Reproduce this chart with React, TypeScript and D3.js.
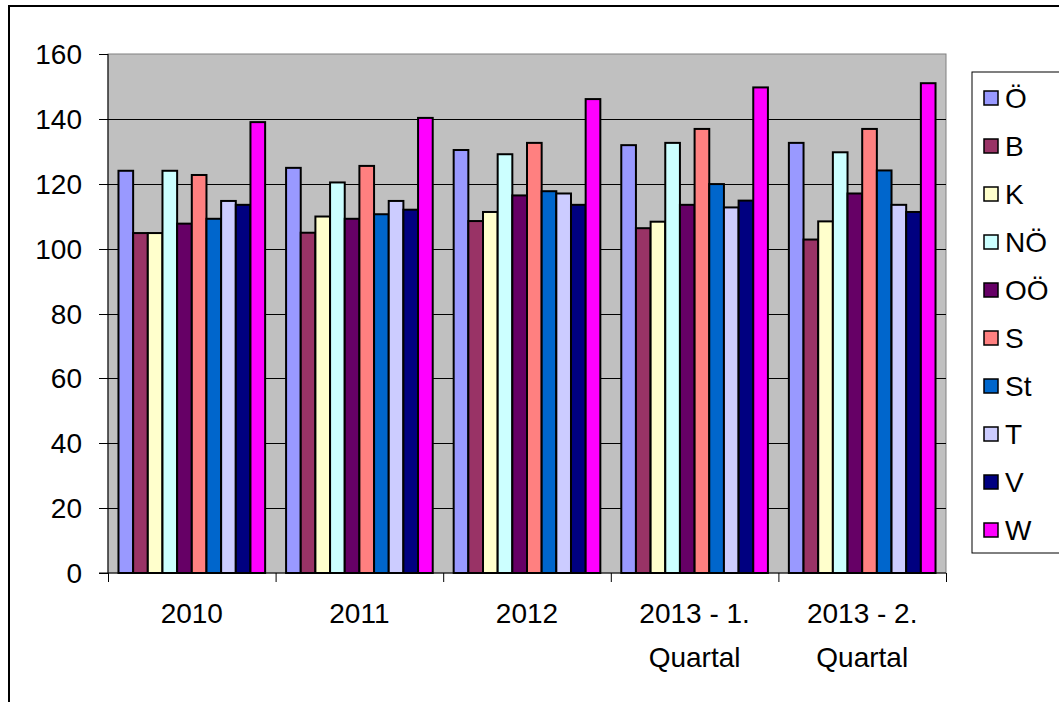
import React from "react";
import * as d3 from "d3";

const categories: string[][] = [["2010"], ["2011"], ["2012"], ["2013 - 1.", "Quartal"], ["2013 - 2.", "Quartal"]];
const seriesNames = ["Ö", "B", "K", "NÖ", "OÖ", "S", "St", "T", "V", "W"];
const seriesColors = ["#9999FF", "#993366", "#FFFFCC", "#CCFFFF", "#660066", "#FF8080", "#0066CC", "#CCCCFF", "#000080", "#FF00FF"];
// values per series, across categories
const valÖ = [124.0, 124.9, 130.4, 131.9, 132.6];
const valB = [104.8, 104.9, 108.5, 106.3, 102.8];
const valK = [104.8, 109.9, 111.3, 108.3, 108.4];
const valNÖ = [124.0, 120.4, 129.1, 132.6, 129.7];
const valOÖ = [107.7, 109.2, 116.4, 113.5, 117.0];
const valS = [122.7, 125.5, 132.6, 136.9, 136.9];
const valSt = [109.2, 110.6, 117.7, 119.9, 124.1];
const valT = [114.7, 114.7, 117.0, 112.7, 113.5];
const valV = [113.5, 112.0, 113.5, 114.8, 111.3];
const valW = [139.0, 140.3, 146.1, 149.7, 151.0];
const seriesValues = [valÖ, valB, valK, valNÖ, valOÖ, valS, valSt, valT, valV, valW];
const yTicks = [0, 20, 40, 60, 80, 100, 120, 140, 160];

const FONT = "Arial, 'Liberation Sans', sans-serif";

export default function App() {
  const left = 108, right = 946, top = 54, bottom = 573;
  const x0 = d3.scaleBand<number>().domain(d3.range(categories.length)).range([left, right]).paddingInner(0.125).paddingOuter(0.0625);
  const x1 = d3.scaleBand<number>().domain(d3.range(seriesNames.length)).range([0, x0.bandwidth()]).padding(0);
  const y = d3.scaleLinear().domain([0, 160]).range([bottom, top]);
  const step = (right - left) / categories.length;
  const fs = 28;

  return (
    <svg width={1059} height={702} style={{ position: "absolute", left: 0, top: 0 }}>
      <rect x={9} y={6} width={1070} height={720} fill="#fff" stroke="#000" strokeWidth={2} />
      <rect x={left} y={top} width={right - left} height={bottom - top} fill="#C0C0C0" stroke="#808080" strokeWidth={1} />
      {yTicks.slice(1, -1).map((t) => (
        <line key={t} x1={left} x2={right} y1={Math.round(y(t)) + 0.5} y2={Math.round(y(t)) + 0.5} stroke="#000" strokeWidth={1} />
      ))}
      {seriesValues.map((vals, si) =>
        vals.map((v, ci) => (
          <rect
            key={`${si}-${ci}`}
            x={(x0(ci) as number) + (x1(si) as number)}
            y={y(v)}
            width={x1.bandwidth()}
            height={y(0) - y(v)}
            fill={seriesColors[si]}
            stroke="#000"
            strokeWidth={2}
          />
        ))
      )}
      <line x1={left} x2={left} y1={top} y2={bottom} stroke="#000" strokeWidth={1} />
      <line x1={left - 9} x2={right} y1={bottom} y2={bottom} stroke="#000" strokeWidth={1} />
      {yTicks.map((t) => (
        <g key={t}>
          <line x1={left - 9} x2={left} y1={Math.round(y(t)) + 0.5} y2={Math.round(y(t)) + 0.5} stroke="#000" />
          <text x={82} y={y(t) + 10} textAnchor="end" fontFamily={FONT} fontSize={fs} fill="#000">{t}</text>
        </g>
      ))}
      {d3.range(categories.length + 1).map((i) => (
        <line key={i} x1={left + i * step + 0.5} x2={left + i * step + 0.5} y1={bottom} y2={bottom + 9} stroke="#000" />
      ))}
      {categories.map((lines, ci) => (
        <text key={ci} x={left + (ci + 0.5) * step} y={623} textAnchor="middle" fontFamily={FONT} fontSize={fs} fill="#000">
          {lines.map((l, li) => (
            <tspan key={li} x={left + (ci + 0.5) * step} dy={li === 0 ? 0 : 44}>{l}</tspan>
          ))}
        </text>
      ))}
      <rect x={972} y={72} width={100} height={481} fill="#fff" stroke="#000" strokeWidth={1} />
      {seriesNames.map((n, i) => (
        <g key={n} transform={`translate(0, ${98 + i * 48})`}>
          <rect x={984} y={-7} width={14} height={14} fill={seriesColors[i]} stroke="#000" strokeWidth={1.5} />
          <text x={1005} y={10} fontFamily={FONT} fontSize={fs} fill="#000">{n}</text>
        </g>
      ))}
    </svg>
  );
}
